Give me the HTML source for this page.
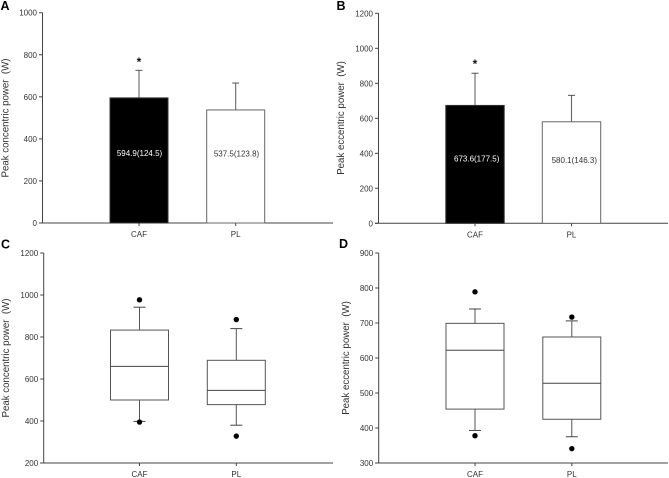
<!DOCTYPE html>
<html lang="en">
<head>
<meta charset="utf-8">
<title>Peak power charts</title>
<style>
html,body{margin:0;padding:0;background:#fff;width:669px;height:478px;overflow:hidden}
svg{display:block;filter:blur(0.3px)}
text{font-family:"Liberation Sans",sans-serif;font-size:8px;fill:#333}
</style>
</head>
<body>
<svg id="chart" width="669" height="478" viewBox="0 0 669 478" xmlns="http://www.w3.org/2000/svg"></svg>
<script>
const categories = ['CAF', 'PL'];

const ticksA = [0, 200, 400, 600, 800, 1000];
const ticksB = [0, 200, 400, 600, 800, 1000, 1200];
const ticksC = [200, 400, 600, 800, 1000, 1200];
const ticksD = [300, 400, 500, 600, 700, 800, 900];

const meansA = [594.9, 537.5];
const errorBarsA = [131, 128];
const printedSdA = ['124.5', '123.8'];
const labelAtA = [333, 331];

const meansB = [673.6, 580.1];
const errorBarsB = [184, 151];
const printedSdB = ['177.5', '146.3'];
const labelAtB = [369, 362];

const q1C = [500, 478];
const medianC = [660, 546];
const q3C = [833, 689];
const whiskerLowC = [398, 380];
const whiskerHighC = [942, 840];
const outliersLowC = [395, 328];
const outliersHighC = [977, 883];

const q1D = [454, 425];
const medianD = [622, 528];
const q3D = [699, 660];
const whiskerLowD = [393, 375];
const whiskerHighD = [740, 706];
const outliersLowD = [378, 341];
const outliersHighD = [789, 717];

const svg = document.getElementById('chart');
const NS = 'http://www.w3.org/2000/svg';
const AXIS = '#444';

function make(tag, props, parent) {
  const el = document.createElementNS(NS, tag);
  for (const k in props) el.setAttribute(k, props[k]);
  (parent || svg).appendChild(el);
  return el;
}

function line(parent, name, x1, y1, x2, y2, color, w) {
  const el = make('line', {x1: x1, y1: y1, x2: x2, y2: y2, stroke: color || AXIS, 'stroke-width': w || 1}, parent);
  
  
  return el;
}

function label(parent, name, str, x, y, anchor, extra) {
  const el = make('text', Object.assign({x: x, y: y, 'text-anchor': anchor || 'middle'}, extra || {}), parent);
  el.textContent = str;
  
  
  return el;
}

function drawAxes(cfg) {
  const g = make('g', {});
  
  
  const min = cfg.ticks[0], max = cfg.ticks[cfg.ticks.length - 1];
  const y = v => cfg.y0 + (v - min) / (max - min) * (cfg.y1 - cfg.y0);
  const x = i => cfg.centers[i];

  line(g, 'y-axis', cfg.x0, cfg.y1, cfg.x0, cfg.y0);
  line(g, 'x-axis', cfg.x0 - 3.5, cfg.y0, cfg.xEnd, cfg.y0);
  cfg.ticks.forEach(t => {
    line(g, 'y-tick-' + t, cfg.x0 - 3.5, y(t), cfg.x0, y(t));
    label(g, 'y-tick-label-' + t, String(t), cfg.x0 - 5.5, y(t) + 3, 'end');
  });
  categories.forEach((c, i) => {
    line(g, 'x-tick-' + c, x(i), cfg.y0, x(i), cfg.y0 + 3);
    label(g, 'x-tick-label-' + c, c, x(i), cfg.y0 + 14);
  });
  label(g, 'y-axis-title', cfg.title, 0, 0, 'middle',
    {transform: 'translate(' + cfg.titleX + ',' + cfg.titleY + ') rotate(-90)', style: 'font-size:9.7px;white-space:pre'});
  label(g, 'panel-letter', cfg.id, cfg.letterX, cfg.letterY, 'start',
    {style: 'font-size:12.5px;font-weight:bold;fill:#000'});
  return {g: g, y: y, x: x};
}

function drawBars(cfg) {
  const a = drawAxes(cfg);
  cfg.means.forEach((m, i) => {
    const c = categories[i];
    const left = a.x(i) - cfg.half;
    const top = a.y(m + cfg.errors[i]);
    line(a.g, 'error-bar-' + c, a.x(i), a.y(m), a.x(i), top, '#666', 1.1);
    line(a.g, 'error-cap-' + c, a.x(i) - 3.5, top, a.x(i) + 3.5, top, '#555', 1);
    const bar = make('rect', {
      x: left, y: a.y(m), width: cfg.half * 2, height: cfg.y0 - a.y(m),
      fill: i === 0 ? '#000' : '#fff',
      stroke: i === 0 ? '#333' : '#666', 'stroke-width': 1
    }, a.g);
    
    
    const txt = label(a.g, 'bar-value-' + c, m.toFixed(1) + '(' + cfg.printed[i] + ')',
      cfg.labelX[i], a.y(cfg.labelAt[i]) + 3);
    if (i === 0) txt.setAttribute('style', 'fill:#fff');
  });
  const star = label(a.g, 'significance-star', '*', a.x(0), cfg.starY, 'middle',
    {style: 'font-size:12px;font-weight:bold;fill:#111'});
  return star;
}

function drawBoxes(cfg) {
  const a = drawAxes(cfg);
  categories.forEach((c, i) => {
    const cx = a.x(i), left = cx - cfg.half;
    line(a.g, 'whisker-high-' + c, cx, a.y(cfg.q3[i]), cx, a.y(cfg.whiskerHigh[i]), '#555', 1);
    line(a.g, 'whisker-low-' + c, cx, a.y(cfg.q1[i]), cx, a.y(cfg.whiskerLow[i]), '#555', 1);
    line(a.g, 'whisker-cap-high-' + c, cx - 6, a.y(cfg.whiskerHigh[i]), cx + 6, a.y(cfg.whiskerHigh[i]), '#444', 1);
    line(a.g, 'whisker-cap-low-' + c, cx - 6, a.y(cfg.whiskerLow[i]), cx + 6, a.y(cfg.whiskerLow[i]), '#444', 1);
    const box = make('rect', {
      x: left, y: a.y(cfg.q3[i]), width: cfg.half * 2, height: a.y(cfg.q1[i]) - a.y(cfg.q3[i]),
      fill: '#fff', stroke: '#555', 'stroke-width': 1
    }, a.g);
    
    
    line(a.g, 'median-' + c, left, a.y(cfg.median[i]), left + cfg.half * 2, a.y(cfg.median[i]), '#444', 1);
    [cfg.outHigh[i], cfg.outLow[i]].forEach((v, j) => {
      const dot = make('circle', {cx: cx, cy: a.y(v), r: 2.7, fill: '#000'}, a.g);
      
      
    });
  });
}

drawBars({
  id: 'A', ticks: ticksA, x0: 42.5, xEnd: 333, y0: 223, y1: 12.7,
  centers: [139, 235.7], half: 29, title: 'Peak concentric power  (W)',
  titleX: 8.5, titleY: 118, letterX: 0.5, letterY: 10,
  means: meansA, errors: errorBarsA, printed: printedSdA, labelAt: labelAtA,
  labelX: [139.5, 236.5], starY: 66
});
drawBars({
  id: 'B', ticks: ticksB, x0: 378.5, xEnd: 668, y0: 223.3, y1: 13.3,
  centers: [475, 571.5], half: 29.2, title: 'Peak eccentric power  (W)',
  titleX: 344, titleY: 118, letterX: 336.5, letterY: 10,
  means: meansB, errors: errorBarsB, printed: printedSdB, labelAt: labelAtB,
  labelX: [476.7, 574.3], starY: 68
});
drawBoxes({
  id: 'C', ticks: ticksC, x0: 43.7, xEnd: 333, y0: 463, y1: 253,
  centers: [139.5, 236.3], half: 29, title: 'Peak concentric power  (W)',
  titleX: 9, titleY: 358, letterX: 1, letterY: 248.5,
  q1: q1C, median: medianC, q3: q3C, whiskerLow: whiskerLowC, whiskerHigh: whiskerHighC,
  outLow: outliersLowC, outHigh: outliersHighC
});
drawBoxes({
  id: 'D', ticks: ticksD, x0: 378.7, xEnd: 668, y0: 463, y1: 253,
  centers: [475, 571.8], half: 29, title: 'Peak eccentric power  (W)',
  titleX: 349, titleY: 358, letterX: 339, letterY: 248,
  q1: q1D, median: medianD, q3: q3D, whiskerLow: whiskerLowD, whiskerHigh: whiskerHighD,
  outLow: outliersLowD, outHigh: outliersHighD
});
</script>
</body>
</html>
